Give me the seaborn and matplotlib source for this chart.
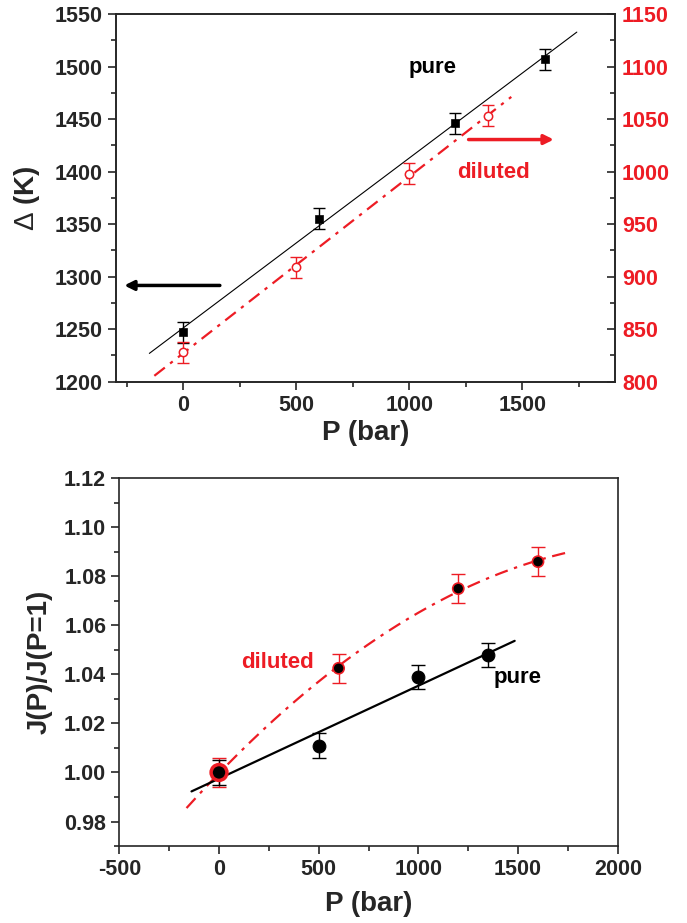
import numpy as np
import matplotlib
matplotlib.use('Agg')
import matplotlib.pyplot as plt
from matplotlib.ticker import MultipleLocator, FormatStrFormatter
import seaborn as sns

sns.set_theme(style='ticks')
plt.rcParams['font.family'] = ['Liberation Sans', 'DejaVu Sans']
plt.rcParams['font.weight'] = 'bold'
plt.rcParams['axes.linewidth'] = 1.2
plt.rcParams['axes.unicode_minus'] = False
plt.rcParams['mathtext.fontset'] = 'custom'
plt.rcParams['mathtext.rm'] = 'Liberation Sans:normal'
plt.rcParams['mathtext.default'] = 'rm'

RED = '#ED1C24'

# top panel: gap (K) vs pressure
p_pure_top = [0, 600, 1200, 1600]
gap_pure = [1247, 1355, 1446, 1507]
gap_pure_err = [10, 10, 10, 10]
p_dil_top = [0, 500, 1000, 1350]
gap_dil = [828, 909, 998, 1053]
gap_dil_err = [10, 10, 10, 10]
fit_range_pure_top = [-151, 1741]
fit_range_dil_top = [-129, 1451]

# bottom panel: J(P)/J(P=1)
p_pure_bot = [0, 500, 1000, 1350]
j_pure = [1.000, 1.011, 1.039, 1.048]
j_pure_err = [0.005, 0.005, 0.005, 0.005]
p_dil_bot = [0, 600, 1200, 1600]
j_dil = [1.000, 1.0425, 1.075, 1.086]
j_dil_err = [0.006, 0.006, 0.006, 0.006]
fit_range_pure_bot = [-138, 1483]
fit_range_dil_bot = [-163, 1760]

fig = plt.figure(figsize=(6.87, 9.23), dpi=100)
ax = fig.add_axes([0.1684, 0.5865, 0.7268, 0.3983])
ax2 = ax.twinx()
bx = fig.add_axes([0.1737, 0.0834, 0.7255, 0.3984])

# ---- top panel
xs = np.linspace(*fit_range_pure_top, 100)
ax.plot(xs, np.polyval(np.polyfit(p_pure_top, gap_pure, 1), xs), color='black', lw=0.8)
ax.errorbar(p_pure_top, gap_pure, yerr=gap_pure_err, fmt='none', ecolor='black',
            elinewidth=1, capsize=4, capthick=1)
sns.scatterplot(x=p_pure_top, y=gap_pure, marker='s', s=36, color='black',
                edgecolor='black', ax=ax, zorder=5)

xs = np.linspace(*fit_range_dil_top, 100)
ax2.plot(xs, np.polyval(np.polyfit(p_dil_top, gap_dil, 1), xs), color=RED, lw=1.6,
         dashes=(6, 3, 1.5, 3))
ax2.errorbar(p_dil_top, gap_dil, yerr=gap_dil_err, fmt='none', ecolor=RED,
             elinewidth=1, capsize=4, capthick=1)
sns.scatterplot(x=p_dil_top, y=gap_dil, marker='o', s=36, color='white',
                edgecolor=RED, linewidth=1.1, ax=ax2, zorder=5)

ax.set_xlim(-300, 1910)
ax.set_ylim(1200, 1550)
ax2.set_ylim(800, 1150)
ax.xaxis.set_major_locator(MultipleLocator(500))
ax.xaxis.set_minor_locator(MultipleLocator(250))
ax.yaxis.set_major_locator(MultipleLocator(50))
ax.yaxis.set_minor_locator(MultipleLocator(25))
ax2.yaxis.set_major_locator(MultipleLocator(50))
ax2.yaxis.set_minor_locator(MultipleLocator(25))
ax.tick_params(which='major', direction='out', length=6, width=1.2, labelsize=15.5)
ax.tick_params(which='minor', direction='out', length=3.5, width=1.2)
ax.tick_params(right=False, top=False, which='both')
ax2.tick_params(which='major', direction='in', length=6, width=1.2, labelsize=15.5,
                labelcolor=RED, pad=5)
ax2.tick_params(which='minor', direction='in', length=3.5, width=1.2)
ax.set_xlabel('P (bar)', fontsize=20, fontweight='bold', labelpad=3)
ax.set_ylabel(r'$\Delta$ (K)', fontsize=20, fontweight='bold', labelpad=9)

ax.annotate('', xy=(-262, 1291.6), xytext=(161, 1291.6),
            arrowprops=dict(arrowstyle='-|>', color='black', lw=2.5,
                            mutation_scale=14, shrinkA=0, shrinkB=0))
ax.annotate('', xy=(1639, 1430.5), xytext=(1262, 1430.5),
            arrowprops=dict(arrowstyle='-|>', color=RED, lw=2.5,
                            mutation_scale=14, shrinkA=0, shrinkB=0))
ax.text(1102, 1499, 'pure', fontsize=16, fontweight='bold', color='black',
        ha='center', va='center')
ax.text(1371, 1399, 'diluted', fontsize=16, fontweight='bold', color=RED,
        ha='center', va='center')

# ---- bottom panel
xs = np.linspace(*fit_range_dil_bot, 150)
bx.plot(xs, np.polyval(np.polyfit(p_dil_bot, j_dil, 2), xs), color=RED, lw=1.6,
        dashes=(6, 3, 1.5, 3))
xs = np.linspace(*fit_range_pure_bot, 100)
bx.plot(xs, np.polyval(np.polyfit(p_pure_bot, j_pure, 1), xs), color='black', lw=1.6)

bx.errorbar(p_dil_bot, j_dil, yerr=j_dil_err, fmt='none', ecolor=RED,
            elinewidth=1, capsize=5, capthick=1)
bx.errorbar(p_pure_bot, j_pure, yerr=j_pure_err, fmt='none', ecolor='black',
            elinewidth=1, capsize=5, capthick=1)
dil_sizes = [130] + [64] * (len(p_dil_bot) - 1)
dil_widths = [2.5] + [1.2] * (len(p_dil_bot) - 1)
bx.scatter(p_dil_bot, j_dil, s=dil_sizes, c='black', edgecolors=RED,
           linewidths=dil_widths, zorder=5)
sns.scatterplot(x=p_pure_bot[1:], y=j_pure[1:], s=85, color='black',
                edgecolor='black', ax=bx, zorder=6)
sns.scatterplot(x=p_pure_bot[:1], y=j_pure[:1], s=40, color='black',
                edgecolor='black', ax=bx, zorder=6)

bx.set_xlim(-500, 2000)
bx.set_ylim(0.97, 1.12)
bx.xaxis.set_major_locator(MultipleLocator(500))
bx.xaxis.set_minor_locator(MultipleLocator(250))
bx.yaxis.set_major_locator(MultipleLocator(0.02))
bx.yaxis.set_minor_locator(MultipleLocator(0.01))
bx.yaxis.set_major_formatter(FormatStrFormatter('%.2f'))
bx.tick_params(which='major', direction='out', length=6, width=1.2, labelsize=15.5)
bx.tick_params(which='minor', direction='out', length=3.5, width=1.2)
bx.tick_params(right=False, top=False, which='both')
bx.set_xlabel('P (bar)', fontsize=20, fontweight='bold', labelpad=8)
bx.set_ylabel('J(P)/J(P=1)', fontsize=20, fontweight='bold', labelpad=8)
bx.text(291, 1.0448, 'diluted', fontsize=16, fontweight='bold', color=RED,
        ha='center', va='center')
bx.text(1500, 1.0386, 'pure', fontsize=16, fontweight='bold', color='black',
        ha='center', va='center')

fig.savefig('out.png', dpi=100)
